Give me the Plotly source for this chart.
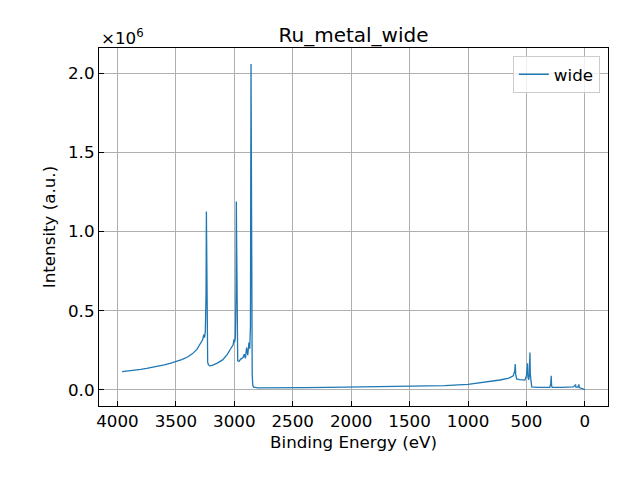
import plotly.graph_objects as go

# Survey spectrum (intensity in units of 1e6 counts)
binding_energy = [
    3960, 3900, 3850, 3800, 3750, 3700, 3650, 3600, 3550, 3500,
    3450, 3400, 3360, 3320, 3290, 3270, 3262, 3255, 3248, 3242,
    3239, 3236, 3232, 3228, 3222, 3210, 3190, 3150, 3100, 3060,
    3030, 3010, 3003, 2998, 2991, 2986, 2983, 2980, 2976, 2971,
    2960, 2945, 2925, 2915, 2905, 2895, 2885, 2875, 2868, 2862,
    2857, 2852, 2847, 2842, 2835, 2800, 2600, 2400, 2200, 2000,
    1800, 1600, 1400, 1200, 1000, 900, 800, 726, 650, 613,
    600, 596, 592, 584, 560, 530, 513, 500, 490, 487,
    480, 475, 470, 467, 462, 455, 400, 300, 292, 288,
    285, 280, 200, 100, 82, 80, 77, 60, 53, 51,
    48, 20, 0,
]
intensity_e6 = [
    0.116, 0.120, 0.124, 0.130, 0.136, 0.142, 0.150, 0.158, 0.168, 0.178,
    0.192, 0.208, 0.228, 0.256, 0.290, 0.318, 0.350, 0.330, 0.370, 0.600,
    1.127, 0.700, 0.300, 0.175, 0.160, 0.152, 0.155, 0.168, 0.190, 0.225,
    0.262, 0.285, 0.320, 0.300, 0.330, 0.600, 1.190, 0.700, 0.300, 0.185,
    0.180, 0.195, 0.205, 0.226, 0.200, 0.268, 0.220, 0.300, 0.260, 0.400,
    2.057, 0.500, 0.100, 0.030, 0.018, 0.014, 0.013, 0.015, 0.016, 0.018,
    0.020, 0.022, 0.025, 0.028, 0.036, 0.046, 0.053, 0.063, 0.075, 0.089,
    0.120, 0.163, 0.100, 0.070, 0.065, 0.064, 0.062, 0.090, 0.169, 0.080,
    0.065, 0.100, 0.236, 0.100, 0.036, 0.020, 0.017, 0.016, 0.040, 0.089,
    0.030, 0.016, 0.017, 0.019, 0.030, 0.036, 0.018, 0.018, 0.030, 0.036,
    0.015, 0.008, 0.003,
]
x_ticks = [4000, 3500, 3000, 2500, 2000, 1500, 1000, 500, 0]
y_ticks = [0.0, 0.5, 1.0, 1.5, 2.0]

FONT = "DejaVu Sans"
GRID = "#b0b0b0"

fig = go.Figure()
fig.add_trace(
    go.Scatter(
        x=binding_energy,
        y=intensity_e6,
        mode="lines",
        name="wide",
        line={"color": "#1f77b4", "width": 1.3},
    )
)

axis_common = dict(
    showgrid=True,
    gridcolor=GRID,
    gridwidth=1,
    showline=True,
    linecolor="black",
    linewidth=1.2,
    mirror=True,
    ticks="inside",
    ticklen=5,
    tickcolor="black",
    zeroline=False,
    tickfont={"size": 16.7, "color": "black"},
)

# the page body adds an 8px offset, so margins are shifted to compensate
fig.update_layout(
    width=640,
    height=480,
    margin={"l": 91, "r": 40, "t": 40, "b": 82},
    paper_bgcolor="white",
    plot_bgcolor="white",
    font={"family": FONT, "color": "black"},
    title={
        "text": "Ru_metal_wide",
        "x": 0.5,
        "xref": "paper",
        "xanchor": "center",
        "y": 1,
        "yref": "paper",
        "yanchor": "bottom",
        "pad": {"b": 6},
        "font": {"size": 20},
    },
    xaxis=dict(
        axis_common,
        range=[4158, -198],
        tickvals=x_ticks,
        ticktext=[str(v) for v in x_ticks],
        title={"text": "Binding Energy (eV)", "font": {"size": 16.7}, "standoff": 6},
    ),
    yaxis=dict(
        axis_common,
        range=[-0.101, 2.158],
        tickvals=y_ticks,
        ticktext=[f"{v:.1f}" for v in y_ticks],
        title={"text": "Intensity (a.u.)", "font": {"size": 16.7}, "standoff": 8},
    ),
    legend={
        "x": 0.984,
        "y": 0.978,
        "xanchor": "right",
        "yanchor": "top",
        "bgcolor": "rgba(255,255,255,0.8)",
        "bordercolor": "#cccccc",
        "borderwidth": 1,
        "font": {"size": 16.7},
    },
    showlegend=True,
    annotations=[
        {
            "text": "×10<sup>6</sup>",
            "xref": "paper",
            "yref": "paper",
            "x": 0,
            "y": 1,
            "xanchor": "left",
            "yanchor": "bottom",
            "showarrow": False,
            "font": {"size": 16.7},
            "yshift": -2,
        }
    ],
)

fig.write_html("out.html")
